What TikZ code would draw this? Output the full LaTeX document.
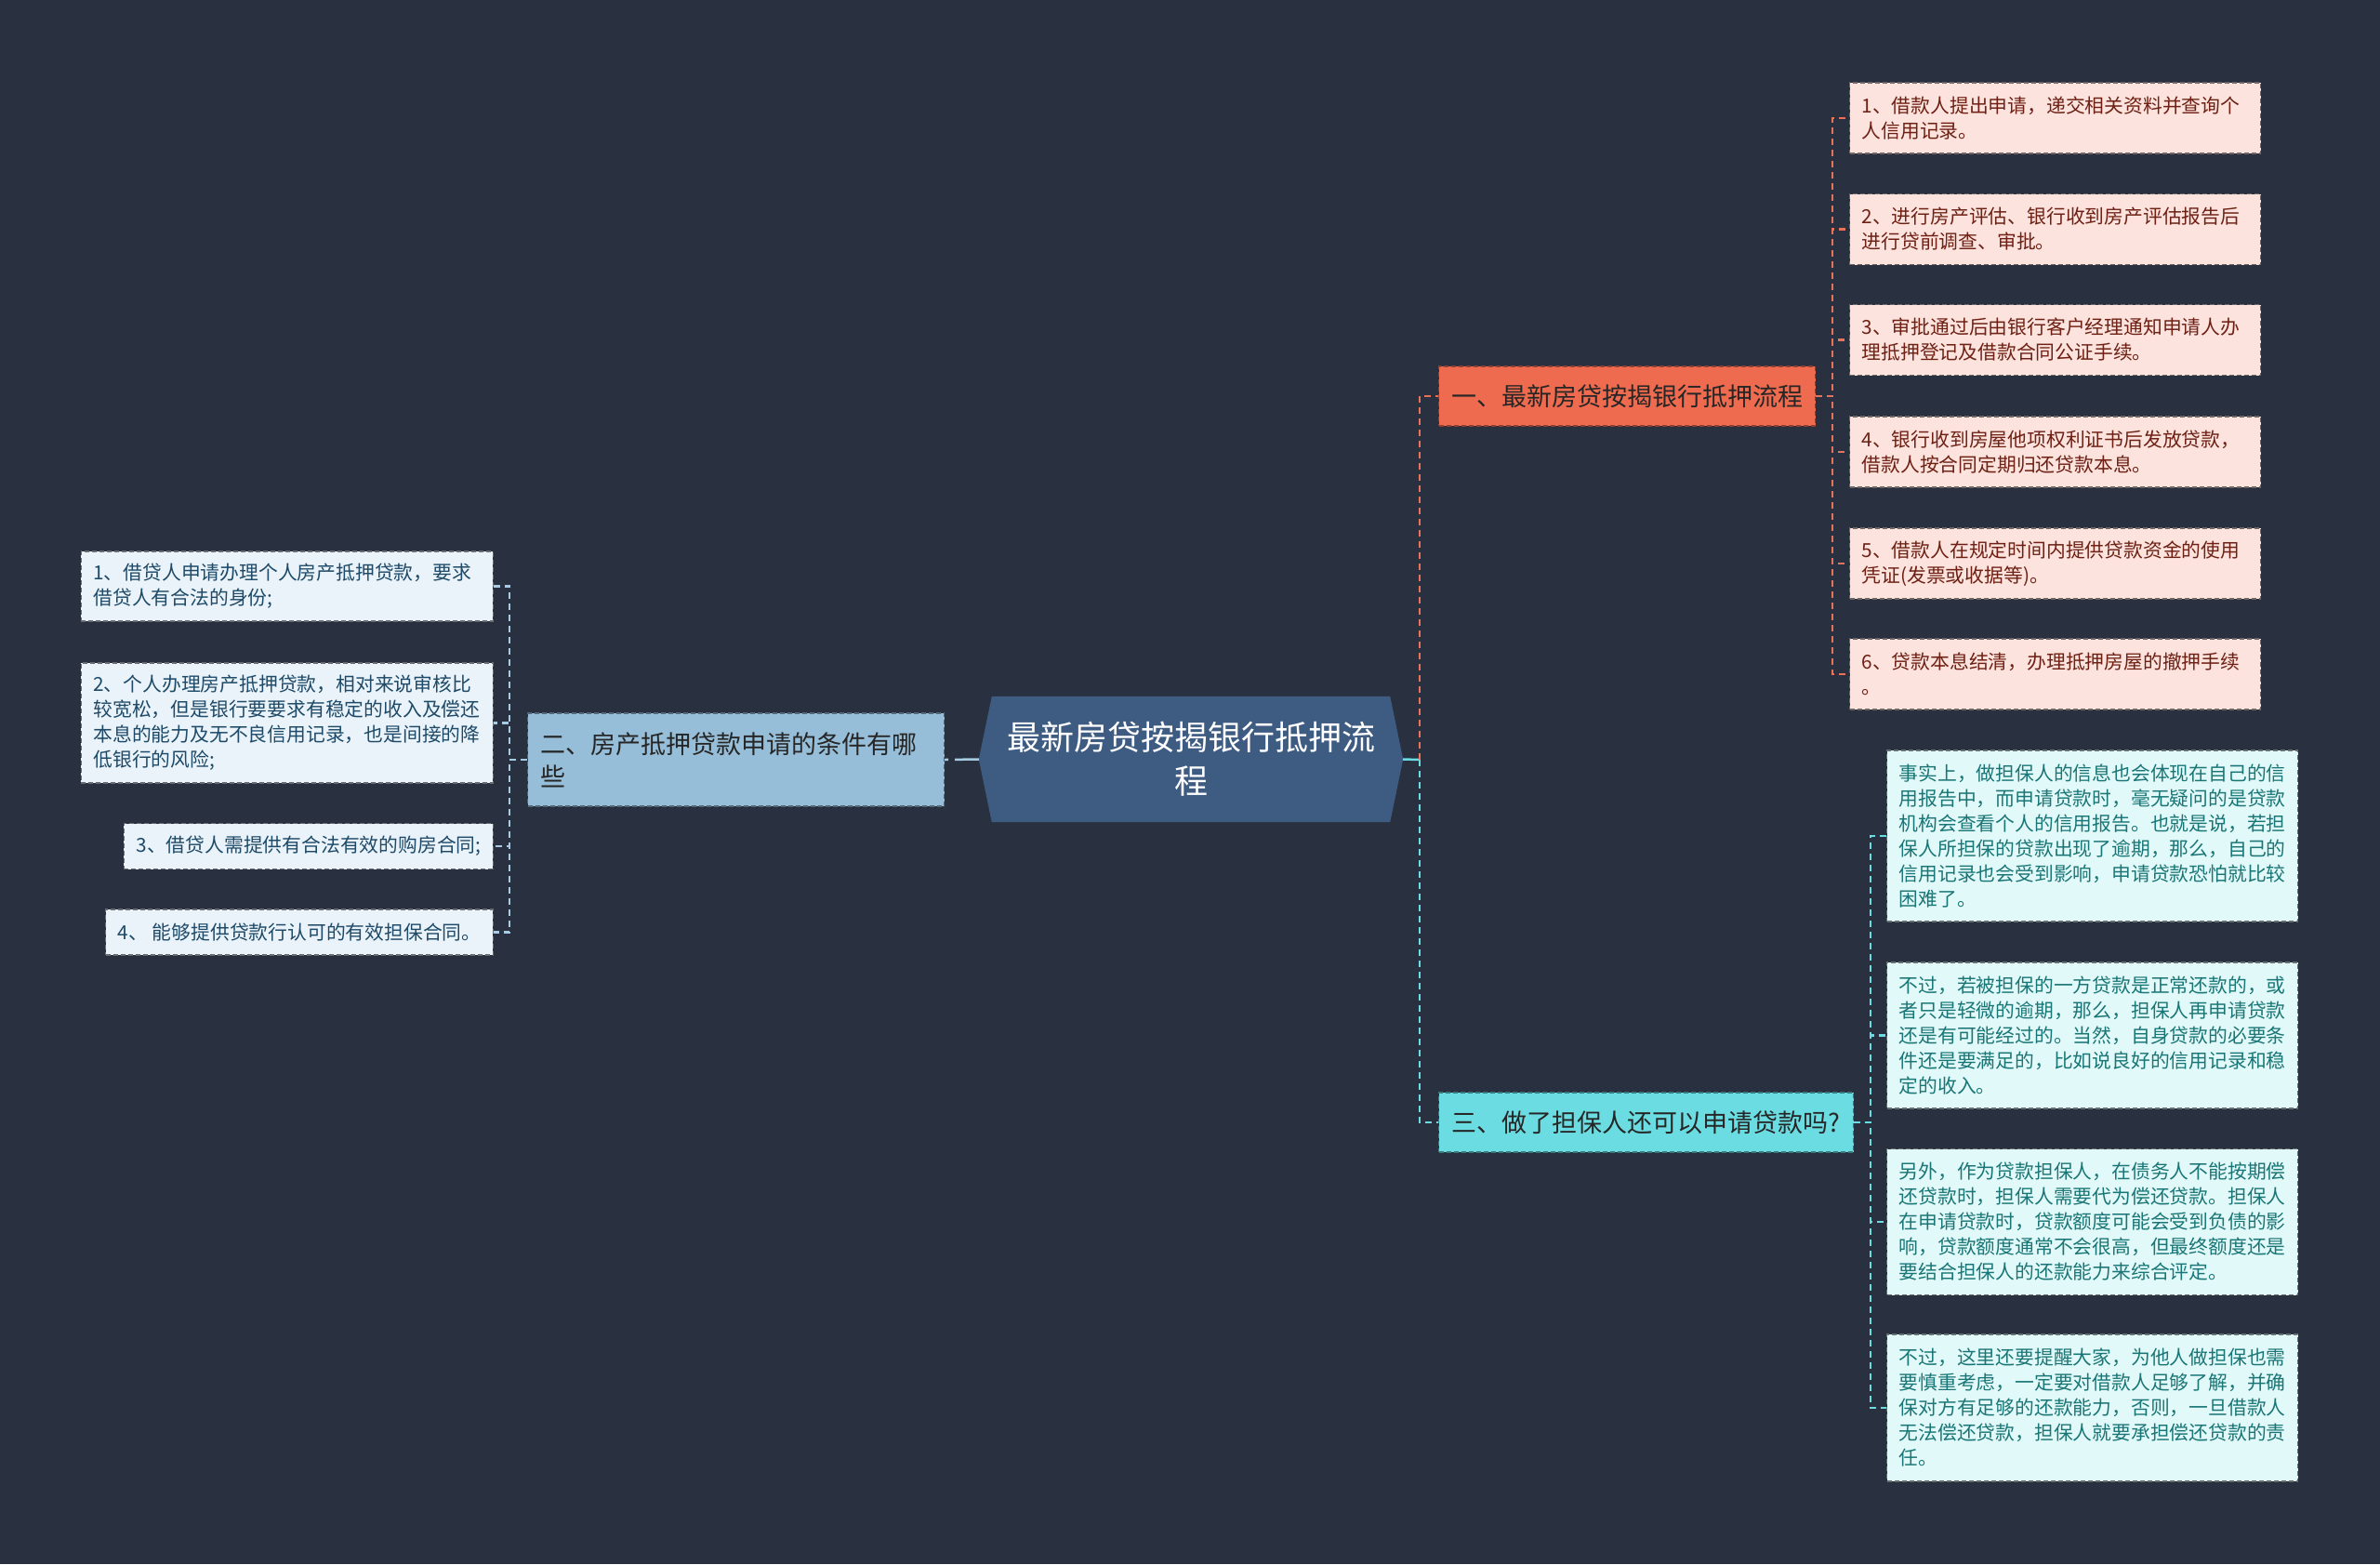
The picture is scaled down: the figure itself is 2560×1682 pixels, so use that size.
\documentclass[tikz,border=0pt]{standalone}
\usepackage{fontspec}
\setmainfont{Noto Sans CJK SC}
\usetikzlibrary{calc}
\definecolor{bg}{HTML}{293140}
\definecolor{cfill}{HTML}{3E5C82}
\definecolor{ofill}{HTML}{EF6B4F}
\definecolor{bfill}{HTML}{96BED8}
\definecolor{tfill}{HTML}{6BDDE2}
\definecolor{oleaf}{HTML}{FCE3DD}
\definecolor{tleaf}{HTML}{E2F9F9}
\definecolor{bleaf}{HTML}{EAF3FA}
\definecolor{otext}{HTML}{6E2014}
\definecolor{ttext}{HTML}{1A7676}
\definecolor{btext}{HTML}{1E4A68}
\definecolor{oline}{HTML}{E8735A}
\definecolor{tline}{HTML}{6BDDE2}
\definecolor{bline}{HTML}{A6CBE3}
\begin{document}
\begin{tikzpicture}[x=1pt,y=-1pt,
  conn/.style={line width=2.5pt, dash pattern=on 7pt off 5pt},
  obranch/.style={conn, draw=oline},
  tbranch/.style={conn, draw=tline},
  bbranch/.style={conn, draw=bline},
  leafbox/.style={draw, dash pattern=on 5pt off 3pt, line width=1.2pt, inner xsep=13pt, inner ysep=0pt,
    align=left, font=\fontsize{20.8}{27}\selectfont},
  oleafbox/.style={leafbox, fill=oleaf, draw=oleaf!45!black, text=otext, text width=416pt, anchor=west},
  tleafbox/.style={leafbox, fill=tleaf, draw=tleaf!45!black, text=ttext, text width=416pt, anchor=west},
  bleafbox/.style={leafbox, fill=bleaf, draw=bleaf!45!black, text=btext, anchor=east},
  branchbox/.style={draw, dash pattern=on 5pt off 3pt, line width=1.2pt, inner xsep=14pt, inner ysep=0pt,
    align=left, anchor=west, font=\fontsize{27}{35}\selectfont}
]
\fill[bg] (0,0) rectangle (2560,1682);
\useasboundingbox (0,0) rectangle (2560,1682);

% central node
\node[minimum width=428pt, minimum height=135pt, inner sep=0pt] (c) at (1281,816.5) {};
\fill[cfill] (c.north west) -- (c.north east) -- ($(c.east)+(14,0)$) -- (c.south east)
  -- (c.south west) -- ($(c.west)+(-14,0)$) -- cycle;
\coordinate (cR) at ($(c.east)+(14,0)$);
\coordinate (cL) at ($(c.west)+(-14,0)$);
\node[text=white, align=center, font=\fontsize{36}{47}\selectfont] (ct) at (c.center) {最新房贷按揭银行抵押流\\程};

% branches
\node[branchbox, fill=ofill, draw=ofill!60!black, text=black!85, text width=377pt, minimum height=64pt] (b1) at (1547,426) {一、最新房贷按揭银行抵押流程};
\node[branchbox, fill=bfill, draw=bfill!55!black, text=black!85, text width=420pt, minimum height=100pt] (b2) at (567,817) {二、房产抵押贷款申请的条件有哪\\些};
\node[branchbox, fill=tfill, draw=tfill!55!black, text=black!85, text width=418pt, minimum height=64pt] (b3) at (1547,1207) {三、做了担保人还可以申请贷款吗?};

% orange leaves
\node[oleafbox, minimum height=76pt] (o1) at (1989,127) {1、借款人提出申请，递交相关资料并查询个\\人信用记录。};
\node[oleafbox, minimum height=76pt] (o2) at (1989,246.5) {2、进行房产评估、银行收到房产评估报告后\\进行贷前调查、审批。};
\node[oleafbox, minimum height=76pt] (o3) at (1989,365.5) {3、审批通过后由银行客户经理通知申请人办\\理抵押登记及借款合同公证手续。};
\node[oleafbox, minimum height=76pt] (o4) at (1989,486) {4、银行收到房屋他项权利证书后发放贷款，\\借款人按合同定期归还贷款本息。};
\node[oleafbox, minimum height=76pt] (o5) at (1989,606) {5、借款人在规定时间内提供贷款资金的使用\\凭证(发票或收据等)。};
\node[oleafbox, minimum height=76pt] (o6) at (1989,725) {6、贷款本息结清，办理抵押房屋的撤押手续\\。};

% teal leaves
\node[tleafbox, minimum height=184pt] (t1) at (2029,899) {事实上，做担保人的信息也会体现在自己的信\\用报告中，而申请贷款时，毫无疑问的是贷款\\机构会查看个人的信用报告。也就是说，若担\\保人所担保的贷款出现了逾期，那么，自己的\\信用记录也会受到影响，申请贷款恐怕就比较\\困难了。};
\node[tleafbox, minimum height=157pt] (t2) at (2029,1113.5) {不过，若被担保的一方贷款是正常还款的，或\\者只是轻微的逾期，那么，担保人再申请贷款\\还是有可能经过的。当然，自身贷款的必要条\\件还是要满足的，比如说良好的信用记录和稳\\定的收入。};
\node[tleafbox, minimum height=157pt] (t3) at (2029,1314) {另外，作为贷款担保人，在债务人不能按期偿\\还贷款时，担保人需要代为偿还贷款。担保人\\在申请贷款时，贷款额度可能会受到负债的影\\响，贷款额度通常不会很高，但最终额度还是\\要结合担保人的还款能力来综合评定。};
\node[tleafbox, minimum height=158pt] (t4) at (2029,1514) {不过，这里还要提醒大家，为他人做担保也需\\要慎重考虑，一定要对借款人足够了解，并确\\保对方有足够的还款能力，否则，一旦借款人\\无法偿还贷款，担保人就要承担偿还贷款的责\\任。};

% left leaves
\node[bleafbox, text width=417pt, minimum height=75pt] (l1) at (531,630.5) {1、借贷人申请办理个人房产抵押贷款，要求\\借贷人有合法的身份;};
\node[bleafbox, text width=417pt, minimum height=129pt] (l2) at (531,777.5) {2、个人办理房产抵押贷款，相对来说审核比\\较宽松，但是银行要要求有稳定的收入及偿还\\本息的能力及无不良信用记录，也是间接的降\\低银行的风险;};
\node[bleafbox, minimum height=49pt] (l3) at (531,910) {3、借贷人需提供有合法有效的购房合同;};
\node[bleafbox, minimum height=49pt] (l4) at (531,1002.5) {4、 能够提供贷款行认可的有效担保合同。};

% connectors: center
\coordinate (jR) at (1527,817);
\draw[line width=2.5pt, tline] (cR) -- (jR);
\draw[line width=2.5pt, bline, dash pattern=on 4pt off 7pt on 200pt off 1pt] (b2.east) -- (cL);
\draw[obranch] (jR) |- (b1.west);
\draw[tbranch] (jR) |- (b3.west);

% orange trunk
\foreach \n in {o1,o2,o3,o4,o5,o6} {
  \draw[obranch] (b1.east) -- ++(18,0) |- (\n.west);
}
% teal trunk
\foreach \n in {t1,t2,t3,t4} {
  \draw[tbranch] (b3.east) -- ++(18,0) |- (\n.west);
}
% left trunk
\foreach \n in {l1,l2,l3,l4} {
  \draw[bbranch] (b2.west) -- ++(-19,0) |- (\n.east);
}
\end{tikzpicture}
\end{document}
